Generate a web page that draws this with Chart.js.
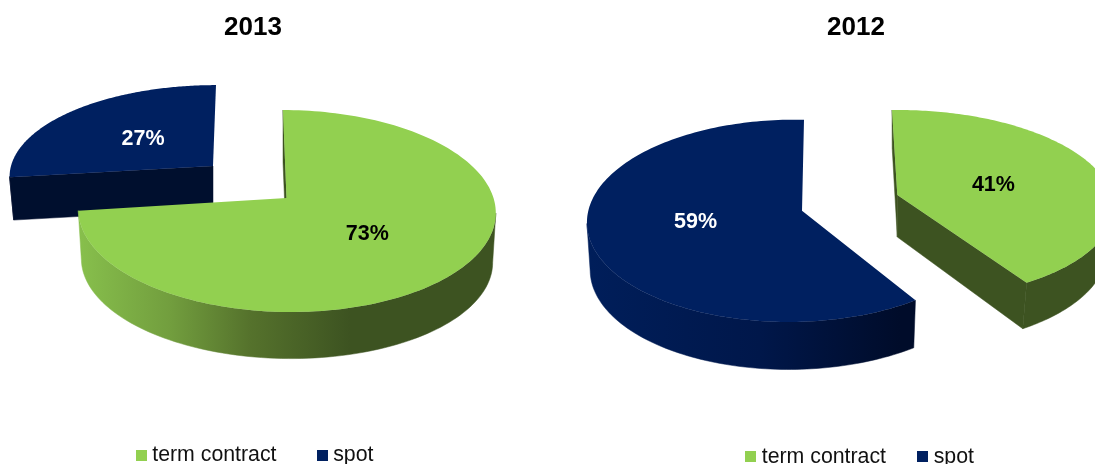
<!DOCTYPE html>
<html>
<head>
<meta charset="utf-8">
<title>term contract vs spot</title>
<script src="https://cdn.jsdelivr.net/npm/chart.js@4/dist/chart.umd.min.js"></script>
<style>
  html, body { margin: 0; padding: 0; background: #fff; }
  #page { position: relative; width: 1095px; height: 464px; overflow: hidden; }
  canvas { position: absolute; top: 0; }
  #chart2013 { left: 0; }
  #chart2012 { left: 580px; }
</style>
</head>
<body>
<div id="page">
  <canvas id="chart2013" width="506" height="464"></canvas>
  <canvas id="chart2012" width="552" height="464"></canvas>
</div>
<script>
// data
const categories = ['term contract', 'spot'];
const values2013 = [73, 27];
const values2012 = [41, 59];

const GREEN = '#92d050';
const NAVY = '#002060';
const FONT = '"Liberation Sans", Arial, sans-serif';

// how each exploded slice is projected, in page pixels.
// rx/ry = disc radii, p/q = perspective, skew = lean, h/sx/sy = thickness of the slab
// cuts = which radial walls show, nudge = label offset
const look2013 = [
  { ax: 286.5, ay: 198, rx: 207, ry: 99.3, p: 0.129, q: 0, skew: 0.04, h: 50, sx: 0.985, sy: 0.97,
    side: [[80, '#87bf4c'], [170, '#729e3e'], [250, '#55722c'], [350, '#3d5321']], cut: '#3d5321',
    cuts: [true, false], nudge: [0, 2] },
  { ax: 213, ay: 166, rx: 202, ry: 89, p: 0.1, q: 0, skew: -0.037, h: 43, sx: 0.98, sy: 0.98,
    side: [[0, '#000f2e']], cut: '#000f2e', cuts: [true, false], nudge: [1, 1] }
];
const look2012 = [
  { ax: 897.3, ay: 195, rx: 208, ry: 93.5, p: 0.1, q: 0.03, skew: 0.062, h: 42, sx: 0.97, sy: 1.045,
    side: [[0, '#3d5321']], cut: '#3d5321', cuts: [true, true], nudge: [-1, 3] },
  { ax: 802, ay: 210.7, rx: 203, ry: 100, p: 0.1, q: -0.05, skew: -0.022, h: 47.5, sx: 0.985, sy: 1,
    side: [[590, '#001e5a'], [760, '#00174a'], [900, '#000c2a']], cut: '#000f2e',
    cuts: [false, false], nudge: [-7, -3] }
];

// project a point of the unit disc to the page
const project = (look, u, v) => {
  const d = 1 - look.p * v - look.q * u;
  const y = look.ry * v / d;
  return { x: look.ax + look.rx * u / d + look.skew * y, y: look.ay + y };
};

// same point on the underside of the slab
const under = (look, pt) => ({
  x: look.ax + (pt.x - look.ax) * look.sx,
  y: look.ay + (pt.y - look.ay) * look.sy + look.h
});

const sideFill = (ctx, stops) => {
  if (stops.length === 1) return stops[0][1];
  const x0 = stops[0][0];
  const x1 = stops[stops.length - 1][0];
  const grad = ctx.createLinearGradient(x0, 0, x1, 0);
  stops.forEach(s => grad.addColorStop((s[0] - x0) / (x1 - x0), s[1]));
  return grad;
};

// part of the rim that faces the viewer: from the lowest point out to the two x extremes
const frontRun = (rim) => {
  let peak = 0;
  rim.forEach((pt, i) => { if (pt.y > rim[peak].y) peak = i; });
  let lo = peak;
  let hi = peak;
  while (lo > 0 && (lo === peak || (rim[lo - 1].x - rim[lo].x) * (rim[lo].x - rim[lo + 1].x) > 0)) lo--;
  while (hi < rim.length - 1 && (hi === peak || (rim[hi + 1].x - rim[hi].x) * (rim[hi].x - rim[hi - 1].x) > 0)) hi++;
  return rim.slice(lo, hi + 1);
};

// band between a run of top points and the same run on the underside
const fillBand = (ctx, look, pts, style) => {
  ctx.fillStyle = style;
  ctx.strokeStyle = style;
  ctx.lineWidth = 0.5;
  ctx.beginPath();
  pts.forEach((pt, i) => (i ? ctx.lineTo(pt.x, pt.y) : ctx.moveTo(pt.x, pt.y)));
  for (let i = pts.length - 1; i >= 0; i--) {
    const low = under(look, pts[i]);
    ctx.lineTo(low.x, low.y);
  }
  ctx.closePath();
  ctx.fill();
  ctx.stroke();
};

// draws the arcs the pie controller laid out, as slabs in perspective
const slabPlugin = {
  id: 'slabPie',
  afterLayout(chart, args, opts) {
    chart.legend.left += opts.legendShift[0];
    chart.legend.right += opts.legendShift[0];
    chart.legend.top += opts.legendShift[1];
    chart.legend.bottom += opts.legendShift[1];
  },
  beforeDatasetsDraw(chart, args, opts) {
    const ctx = chart.ctx;
    const arcs = chart.getDatasetMeta(0).data;
    ctx.save();
    ctx.translate(-chart.canvas.offsetLeft, 0);
    // navy sits behind the green
    for (let i = arcs.length - 1; i >= 0; i--) {
      const arc = arcs[i];
      const look = opts.looks[i];
      const rim = [];
      for (let s = 0; s <= 160; s++) {
        const a = arc.startAngle + (arc.endAngle - arc.startAngle) * s / 160;
        rim.push(project(look, Math.cos(a), Math.sin(a)));
      }
      const apex = project(look, 0, 0);

      if (look.cuts[0]) fillBand(ctx, look, [rim[0], apex], look.cut);
      if (look.cuts[1]) fillBand(ctx, look, [apex, rim[rim.length - 1]], look.cut);
      fillBand(ctx, look, frontRun(rim), sideFill(ctx, look.side));

      ctx.fillStyle = arc.options.backgroundColor;
      ctx.beginPath();
      ctx.moveTo(apex.x, apex.y);
      rim.forEach(pt => ctx.lineTo(pt.x, pt.y));
      ctx.closePath();
      ctx.fill();
    }
    ctx.restore();
    return false;
  },
  afterDraw(chart, args, opts) {
    const ctx = chart.ctx;
    const arcs = chart.getDatasetMeta(0).data;
    const values = chart.data.datasets[0].data;
    ctx.save();
    ctx.translate(-chart.canvas.offsetLeft, 0);
    ctx.font = 'bold 21.5px ' + FONT;
    ctx.textAlign = 'center';
    ctx.textBaseline = 'middle';
    arcs.forEach((arc, i) => {
      const look = opts.looks[i];
      const mid = (arc.startAngle + arc.endAngle) / 2;
      const pos = project(look, Math.cos(mid) * 0.49, Math.sin(mid) * 0.49);
      ctx.fillStyle = i === 0 ? '#000' : '#fff';
      ctx.fillText(values[i] + '%', pos.x + look.nudge[0], pos.y + look.nudge[1]);
    });
    ctx.restore();
  }
};

// small square marker, legend draws it centred on the item start
const legendSwatch = (color) => {
  const c = document.createElement('canvas');
  c.width = 11;
  c.height = 11;
  const g = c.getContext('2d');
  g.fillStyle = color;
  g.fillRect(0, 0, 11, 11);
  return c;
};
const swatches = [legendSwatch(GREEN), legendSwatch(NAVY)];

const makeChart = (id, year, values, looks, gap, legendShift) => new Chart(document.getElementById(id), {
  type: 'pie',
  data: {
    labels: categories,
    datasets: [{ data: values, backgroundColor: [GREEN, NAVY], borderWidth: 0 }]
  },
  options: {
    responsive: false,
    animation: false,
    plugins: {
      tooltip: { enabled: false },
      title: {
        display: true,
        text: year,
        color: '#000',
        font: { family: FONT, size: 26, weight: 'bold' },
        padding: { top: 12, bottom: 10 }
      },
      legend: {
        position: 'bottom',
        labels: {
          usePointStyle: true,
          boxWidth: 1,
          boxHeight: 11,
          padding: gap,
          color: '#111',
          font: { family: FONT, size: 21.3 },
          generateLabels: () => categories.map((text, i) => ({
            text, index: i, pointStyle: swatches[i], fillStyle: [GREEN, NAVY][i],
            strokeStyle: [GREEN, NAVY][i], lineWidth: 0, hidden: false, fontColor: '#111'
          }))
        }
      },
      slabPie: { looks, legendShift }
    }
  },
  plugins: [slabPlugin]
});

document.addEventListener('DOMContentLoaded', () => {
  makeChart('chart2013', '2013', values2013, look2013, 45, [4, 12]);
  makeChart('chart2012', '2012', values2012, look2012, 36, [6, 13.5]);
});
</script>
</body>
</html>
